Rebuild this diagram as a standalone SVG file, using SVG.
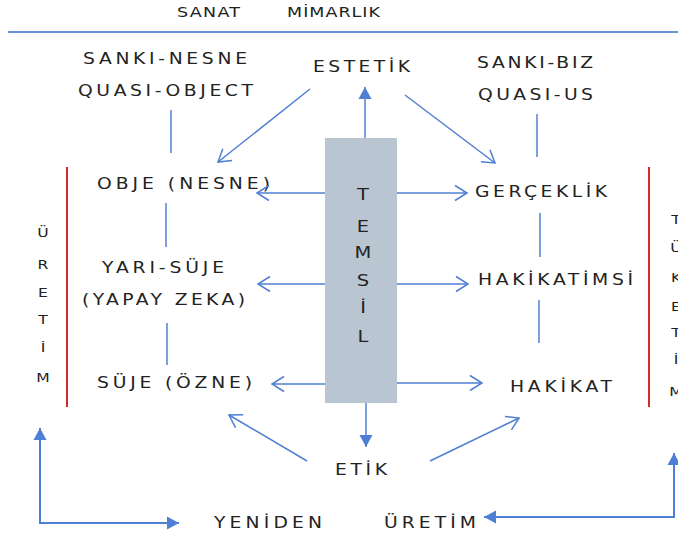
<svg xmlns="http://www.w3.org/2000/svg" width="678" height="537" viewBox="0 0 678 537">
<style>
text{font-family:"DejaVu Sans","Liberation Sans",sans-serif;fill:#222;text-anchor:middle}
.lbl{font-size:15px}
.hd{font-size:14px}
.sm{font-size:12px}
.tm{font-size:15px}
.ln{stroke:#4f7fd4;stroke-width:1.5;fill:none}
.thick{stroke:#4f7fd4;stroke-width:2;fill:none}
.red{stroke:#d42a2a;stroke-width:2;fill:none}
</style>
<defs>
<marker id="open" markerUnits="userSpaceOnUse" markerWidth="14" markerHeight="16" refX="12" refY="7.5" orient="auto" overflow="visible">
<path d="M0,0 L12,7.5 L0,15" fill="none" stroke="#4f7fd4" stroke-width="1.5"/>
</marker>
<marker id="fill" markerUnits="userSpaceOnUse" markerWidth="14" markerHeight="14" refX="12" refY="6.5" orient="auto" overflow="visible">
<path d="M0,0 L12,6.5 L0,13 z" fill="#4f7fd4"/>
</marker>
</defs>

<g id="header">
<text class="hd" transform="translate(208.5,17) scale(1.25,1)" textLength="50.4">SANAT</text>
<text class="hd" transform="translate(333.5,17) scale(1.25,1)" textLength="74.4">MİMARLIK</text>
<line x1="8" y1="32" x2="678" y2="32" stroke="#6b92d8" stroke-width="2"/>
</g>

<g id="sanki-nesne">
<text class="lbl" transform="translate(165,63.5) scale(1.25,1)" textLength="131.2">SANKI-NESNE</text>
<text class="lbl" transform="translate(165.5,95.5) scale(1.25,1)" textLength="140">QUASI-OBJECT</text>
</g>
<g id="estetik"><text class="lbl" transform="translate(361.5,72) scale(1.25,1)" textLength="77.6">ESTETİK</text></g>
<g id="sanki-biz">
<text class="lbl" transform="translate(535,68) scale(1.25,1)" textLength="92.8">SANKI-BIZ</text>
<text class="lbl" transform="translate(535.5,100) scale(1.25,1)" textLength="92">QUASI-US</text>
</g>
<g id="obje"><text class="lbl" transform="translate(183.5,188.5) scale(1.25,1)" textLength="138.4">OBJE (NESNE)</text></g>
<g id="gerceklik"><text class="lbl" transform="translate(541,197) scale(1.25,1)" textLength="105.6">GERÇEKLİK</text></g>
<g id="yari-suje">
<text class="lbl" transform="translate(163,273) scale(1.25,1)" textLength="97.6">YARI-SÜJE</text>
<text class="lbl" transform="translate(163.5,305) scale(1.25,1)" textLength="130.4">(YAPAY ZEKA)</text>
</g>
<g id="hakikatimsi"><text class="lbl" transform="translate(555.5,285) scale(1.25,1)" textLength="124">HAKİKATİMSİ</text></g>
<g id="suje"><text class="lbl" transform="translate(174.5,388) scale(1.25,1)" textLength="124">SÜJE (ÖZNE)</text></g>
<g id="hakikat"><text class="lbl" transform="translate(561,392) scale(1.25,1)" textLength="81.6">HAKİKAT</text></g>
<g id="etik"><text class="lbl" transform="translate(361,475) scale(1.25,1)" textLength="41.6">ETİK</text></g>
<g id="yeniden"><text class="lbl" transform="translate(268,528) scale(1.25,1)" textLength="86.4">YENİDEN</text></g>
<g id="uretim-bottom"><text class="lbl" transform="translate(430,528) scale(1.25,1)" textLength="73.6">ÜRETİM</text></g>

<g id="temsil">
<rect x="325" y="138" width="72" height="265" fill="#b9c6d1"/>
<text class="tm" transform="translate(363,200) scale(1.3,1)">T</text>
<text class="tm" transform="translate(363,232) scale(1.3,1)">E</text>
<text class="tm" transform="translate(363,258) scale(1.3,1)">M</text>
<text class="tm" transform="translate(363,286) scale(1.3,1)">S</text>
<text class="tm" transform="translate(363,313) scale(1.3,1)">İ</text>
<text class="tm" transform="translate(363,342) scale(1.3,1)">L</text>
</g>

<g id="uretim-left">
<text class="sm" transform="translate(43,237) scale(1.3,1)">Ü</text>
<text class="sm" transform="translate(43,269) scale(1.3,1)">R</text>
<text class="sm" transform="translate(43,297) scale(1.3,1)">E</text>
<text class="sm" transform="translate(43,324) scale(1.3,1)">T</text>
<text class="sm" transform="translate(43,352) scale(1.3,1)">İ</text>
<text class="sm" transform="translate(43,382) scale(1.3,1)">M</text>
<line x1="67" y1="167" x2="67" y2="407" class="red"/>
</g>

<g id="tuketim-right">
<line x1="649" y1="167" x2="649" y2="407" class="red"/>
<text class="sm" transform="translate(676,224) scale(1.3,1)">T</text>
<text class="sm" transform="translate(676,252) scale(1.3,1)">Ü</text>
<text class="sm" transform="translate(676,282) scale(1.3,1)">K</text>
<text class="sm" transform="translate(676,311) scale(1.3,1)">E</text>
<text class="sm" transform="translate(676,337) scale(1.3,1)">T</text>
<text class="sm" transform="translate(676,364) scale(1.3,1)">İ</text>
<text class="sm" transform="translate(676,396) scale(1.3,1)">M</text>
</g>

<g id="connectors">
<line x1="171" y1="110" x2="171" y2="153" class="ln"/>
<line x1="166" y1="203" x2="166" y2="247" class="ln"/>
<line x1="167" y1="323" x2="167" y2="365" class="ln"/>
<line x1="537" y1="114" x2="537" y2="157" class="ln"/>
<line x1="540" y1="213" x2="540" y2="257" class="ln"/>
<line x1="539" y1="300" x2="539" y2="343" class="ln"/>

<line x1="310" y1="89" x2="218" y2="162" class="ln" marker-end="url(#open)"/>
<line x1="405" y1="95" x2="495" y2="163" class="ln" marker-end="url(#open)"/>
<line x1="307" y1="461" x2="229" y2="415" class="ln" marker-end="url(#open)"/>
<line x1="430" y1="461" x2="519" y2="418" class="ln" marker-end="url(#open)"/>

<line x1="325" y1="193" x2="257" y2="193" class="ln" marker-end="url(#open)"/>
<line x1="325" y1="284" x2="258" y2="284" class="ln" marker-end="url(#open)"/>
<line x1="325" y1="384" x2="272" y2="384" class="ln" marker-end="url(#open)"/>
<line x1="397" y1="193" x2="467" y2="193" class="ln" marker-end="url(#open)"/>
<line x1="397" y1="284" x2="468" y2="284" class="ln" marker-end="url(#open)"/>
<line x1="397" y1="383" x2="482" y2="383" class="ln" marker-end="url(#open)"/>

<line x1="365" y1="138" x2="365" y2="87" class="ln" marker-end="url(#fill)"/>
<line x1="366" y1="403" x2="366" y2="447" class="ln" marker-end="url(#fill)"/>

<line x1="40" y1="523" x2="40" y2="428" class="thick" marker-end="url(#fill)"/>
<line x1="39" y1="523" x2="179" y2="523" class="thick" marker-end="url(#fill)"/>
<line x1="674" y1="518" x2="674" y2="453" class="thick" marker-end="url(#fill)"/>
<line x1="675" y1="517" x2="484" y2="517" class="thick" marker-end="url(#fill)"/>
</g>
</svg>
